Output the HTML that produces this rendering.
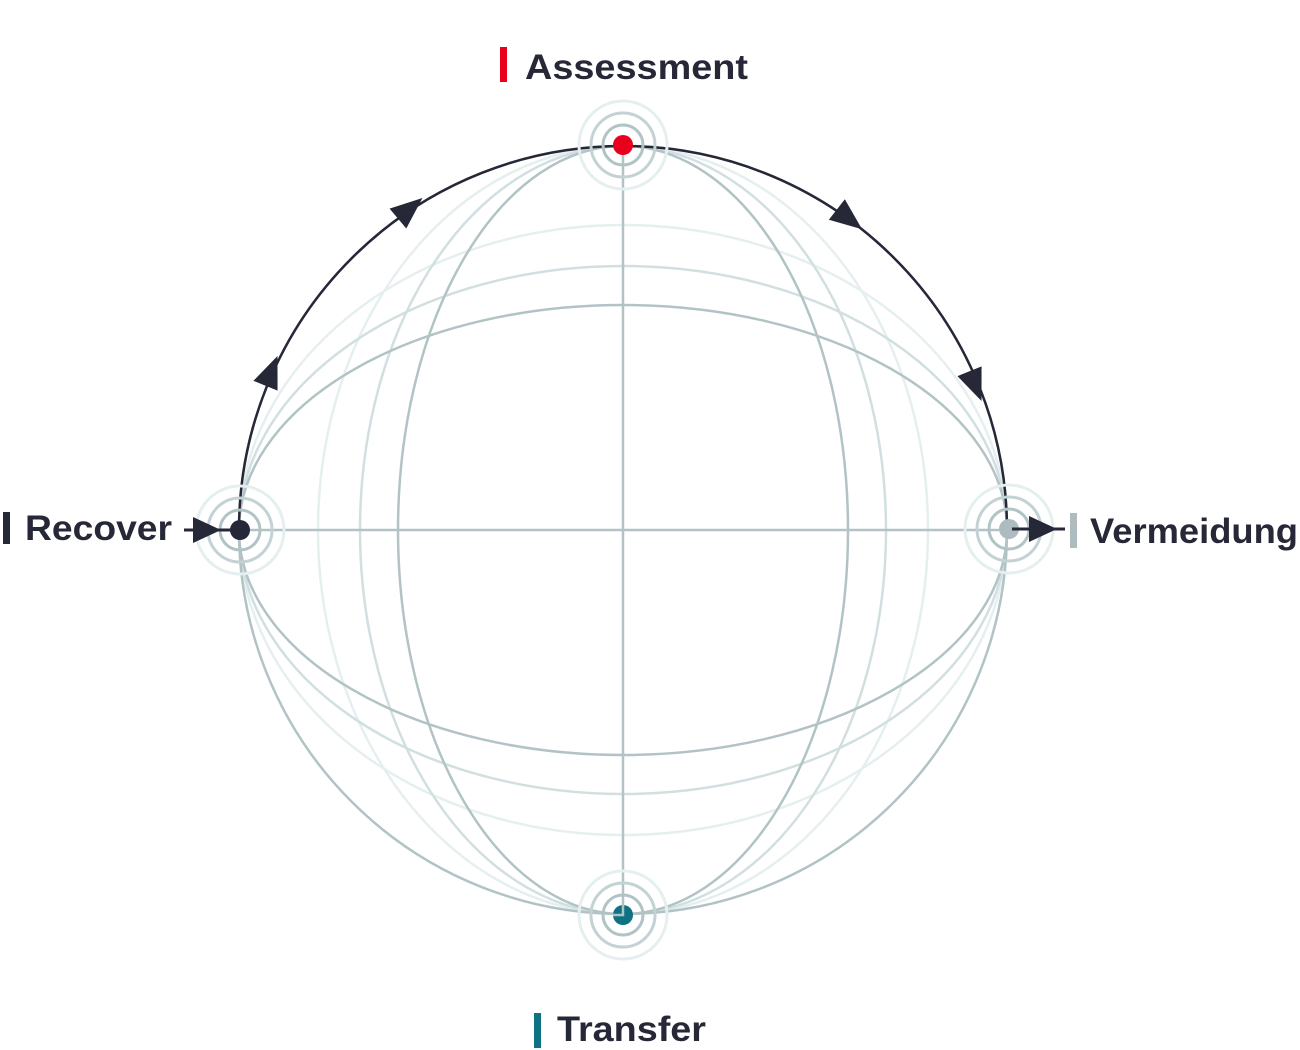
<!DOCTYPE html>
<html><head><meta charset="utf-8"><style>html,body{margin:0;padding:0;background:#fff}svg{display:block}</style></head>
<body>
<svg width="1300" height="1050" viewBox="0 0 1300 1050" xmlns="http://www.w3.org/2000/svg">
<g fill="none" stroke-width="2.5">
  <ellipse cx="623" cy="530" rx="305" ry="384" stroke="#e6eff0"/>
  <ellipse cx="623" cy="530" rx="384" ry="305" stroke="#e6eff0"/>
  <ellipse cx="623" cy="530" rx="263" ry="384" stroke="#d2dfe1"/>
  <ellipse cx="623" cy="530" rx="384" ry="264" stroke="#d2dfe1"/>
  <ellipse cx="623" cy="530" rx="225" ry="384" stroke="#b2c3c6"/>
  <ellipse cx="623" cy="530" rx="384" ry="225" stroke="#b2c3c6"/>
  <circle cx="623" cy="530" r="384" stroke="#b2c3c6"/>
  <line x1="623" y1="146" x2="623" y2="914" stroke="#b2c3c6"/>
  <line x1="239" y1="530" x2="1007" y2="530" stroke="#b2c3c6"/>
  <path d="M239 530 A384 384 0 0 1 1007 530" stroke="#262837" stroke-width="2.5"/>
</g>
<g fill="#262837">
  <polygon points="-4,-13 28,0 -4,13" transform="translate(401,216) rotate(-40)"/>
  <polygon points="-4,-13 28,0 -4,13" transform="translate(267,382) rotate(-68)"/>
  <polygon points="-4,-13 28,0 -4,13" transform="translate(840,212) rotate(38)"/>
  <polygon points="-4,-13 28,0 -4,13" transform="translate(971,375) rotate(68)"/>
</g>
<g fill="none" stroke-width="3">
  <g transform="translate(623,145)"><circle r="44" stroke="#e6eff0"/><circle r="32" stroke="#c3d2d4"/><circle r="20" stroke="#b2c3c6"/></g>
  <g transform="translate(240,530)"><circle r="44" stroke="#e6eff0"/><circle r="32" stroke="#c3d2d4"/><circle r="20" stroke="#b2c3c6"/></g>
  <g transform="translate(1009,529)"><circle r="44" stroke="#e6eff0"/><circle r="32" stroke="#c3d2d4"/><circle r="20" stroke="#b2c3c6"/></g>
  <g transform="translate(623,915)"><circle r="44" stroke="#e6eff0"/><circle r="32" stroke="#c3d2d4"/><circle r="20" stroke="#b2c3c6"/></g>
</g>
<circle cx="623" cy="145" r="10" fill="#e8001c"/>
<circle cx="240" cy="530" r="10" fill="#262837"/>
<circle cx="1009" cy="529" r="10" fill="#aebcc0"/>
<circle cx="623" cy="915" r="10" fill="#0e7282"/>
<path d="M623 905 V915 H613" stroke="#b2c3c6" stroke-width="2.5" fill="none"/>
<line x1="184" y1="530" x2="235" y2="530" stroke="#262837" stroke-width="3"/>
<polygon points="193,517 221,530 193,543" fill="#262837"/>
<line x1="1012" y1="529" x2="1065" y2="529" stroke="#262837" stroke-width="3"/>
<polygon points="1029,516 1057,529 1029,542" fill="#262837"/>
<g font-family="Liberation Sans, sans-serif" font-weight="bold" font-size="35" fill="#262837">
  <rect x="500" y="47" width="7" height="35" fill="#e8001c"/>
  <text x="525" y="79" textLength="223" lengthAdjust="spacingAndGlyphs">Assessment</text>
  <rect x="3" y="512" width="7" height="32" fill="#262837"/>
  <text x="25" y="540" textLength="147" lengthAdjust="spacingAndGlyphs">Recover</text>
  <rect x="1070" y="513" width="7" height="35" fill="#aebcc0"/>
  <text x="1090" y="543" textLength="208" lengthAdjust="spacingAndGlyphs">Vermeidung</text>
  <rect x="534" y="1013" width="7" height="35" fill="#0e7282"/>
  <text x="557" y="1041" textLength="149" lengthAdjust="spacingAndGlyphs">Transfer</text>
</g>
</svg>
</body></html>
